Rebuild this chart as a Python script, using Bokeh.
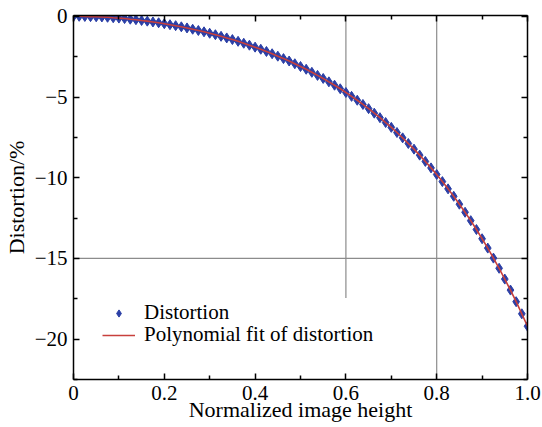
from bokeh.plotting import figure
from bokeh.models import (ColumnDataSource, FixedTicker, LinearAxis, Range1d,
                          Legend, LegendItem)
from bokeh.embed import file_html
from bokeh.resources import INLINE

# ---- data ----
norm_height = [0.0, 0.0125, 0.025, 0.0375, 0.05, 0.0625, 0.075, 0.0875, 0.1,
               0.1125, 0.125, 0.1375, 0.15, 0.1625, 0.175, 0.1875, 0.2,
               0.2125, 0.225, 0.2375, 0.25, 0.2625, 0.275, 0.2875, 0.3,
               0.3125, 0.325, 0.3375, 0.35, 0.3625, 0.375, 0.3875, 0.4,
               0.4125, 0.425, 0.4375, 0.45, 0.4625, 0.475, 0.4875, 0.5,
               0.5125, 0.525, 0.5375, 0.55, 0.5625, 0.575, 0.5875, 0.6,
               0.6125, 0.625, 0.6375, 0.65, 0.6625, 0.675, 0.6875, 0.7,
               0.7125, 0.725, 0.7375, 0.75, 0.7625, 0.775, 0.7875, 0.8,
               0.8125, 0.825, 0.8375, 0.85, 0.8625, 0.875, 0.8875, 0.9,
               0.9125, 0.925, 0.9375, 0.95, 0.9625, 0.975, 0.9875, 1.0]
distortion = [0.0, -0.00, -0.01, -0.02, -0.03, -0.04, -0.06, -0.09, -0.11,
              -0.14, -0.18, -0.21, -0.26, -0.30, -0.35, -0.40, -0.46,
              -0.52, -0.58, -0.65, -0.72, -0.80, -0.88, -0.96, -1.05,
              -1.14, -1.24, -1.34, -1.44, -1.55, -1.67, -1.79, -1.91,
              -2.04, -2.18, -2.32, -2.47, -2.62, -2.77, -2.94, -3.11,
              -3.28, -3.47, -3.66, -3.85, -4.06, -4.27, -4.49, -4.72,
              -4.96, -5.20, -5.46, -5.72, -6.00, -6.28, -6.58, -6.88,
              -7.20, -7.53, -7.88, -8.23, -8.60, -8.99, -9.39, -9.80,
              -10.24, -10.69, -11.15, -11.64, -12.14, -12.66, -13.21, -13.78,
              -14.36, -14.98, -15.61, -16.28, -16.96, -17.68, -18.43, -19.20]
fit = list(distortion)

x_ticks = [0.0, 0.2, 0.4, 0.6, 0.8, 1.0]
x_tick_labels = ["0", "0.2", "0.4", "0.6", "0.8", "1.0"]
x_minor = [0.1, 0.3, 0.5, 0.7, 0.9]
y_ticks = [0, -5, -10, -15, -20]
y_tick_labels = ["0", "\u22125", "\u221210", "\u221215", "\u221220"]
y_minor = [-2.5, -7.5, -12.5, -17.5, -22.5]

# reference lines (x0, y0, x1, y1)
ref_x0 = [0.6, 0.8, 0.0]
ref_y0 = [0.05, 0.05, -15.0]
ref_x1 = [0.6, 0.8, 1.0]
ref_y1 = [-17.45, -22.5, -15.0]

FONT = "Liberation Serif"

src = ColumnDataSource(dict(x=norm_height, d=distortion, f=fit))

p = figure(width=542, height=427, output_backend="svg", toolbar_location=None,
           x_range=Range1d(0, 1.0), y_range=Range1d(-22.5, 0.05),
           min_border_left=73, min_border_right=15, min_border_top=15,
           min_border_bottom=48, background_fill_color="white",
           border_fill_color="white")
p.outline_line_color = None
p.xgrid.visible = False
p.ygrid.visible = False

p.segment(x0=ref_x0, y0=ref_y0, x1=ref_x1, y1=ref_y1,
          line_color="#8c8c8c", line_width=1.2)

def style_axis(ax, ticks, minor, overrides, show_labels):
    ax.ticker = FixedTicker(ticks=ticks, minor_ticks=minor)
    ax.axis_line_color = "black"
    ax.axis_line_width = 1.5
    ax.major_tick_line_color = "black"
    ax.minor_tick_line_color = "black"
    ax.major_tick_line_width = 1.5
    ax.minor_tick_line_width = 1.5
    ax.major_tick_in = 6
    ax.major_tick_out = 0
    ax.minor_tick_in = 4
    ax.minor_tick_out = 0
    ax.major_label_text_font = FONT
    ax.major_label_text_font_size = "21px"
    ax.major_label_text_color = "black"
    ax.major_label_overrides = overrides
    if not show_labels:
        ax.major_label_text_alpha = 0

xo = {t: l for t, l in zip(x_ticks, x_tick_labels)}
yo = {t: l for t, l in zip(y_ticks, y_tick_labels)}

style_axis(p.xaxis[0], x_ticks, x_minor, xo, True)
style_axis(p.yaxis[0], y_ticks, y_minor, yo, True)
p.xaxis[0].major_label_standoff = 6
p.yaxis[0].major_label_standoff = 6

p.xaxis.axis_label = "Normalized image height"
p.yaxis.axis_label = "Distortion/%"
for ax in (p.xaxis[0], p.yaxis[0]):
    ax.axis_label_text_font = FONT
    ax.axis_label_text_font_size = "22px"
    ax.axis_label_text_font_style = "normal"
    ax.axis_label_text_color = "black"
p.xaxis[0].axis_label_standoff = -6
p.yaxis[0].axis_label_standoff = 3

top = LinearAxis()
style_axis(top, x_ticks, x_minor, xo, False)
top.major_label_text_font_size = "1px"
top.major_label_standoff = 0
p.add_layout(top, "above")
right = LinearAxis()
style_axis(right, y_ticks, y_minor, yo, False)
right.major_label_text_font_size = "1px"
right.major_label_standoff = 0
p.add_layout(right, "right")

pts = p.scatter("x", "d", source=src, marker="diamond", size=10,
                fill_color="#2b3fa6", line_color="#2b3fa6")
ln = p.line("x", "f", source=src, line_color="#c8403c", line_width=1.6)

legend_kw = dict(padding=2, margin=0, glyph_width=33, glyph_height=18,
                 label_height=18, label_standoff=9, border_line_alpha=0,
                 background_fill_alpha=0,
                 label_text_font=FONT, label_text_font_size="21px",
                 label_text_color="black")
leg1 = Legend(items=[LegendItem(label="Distortion", renderers=[pts])],
              location=(27, 52), **legend_kw)
leg2 = Legend(items=[LegendItem(label="Polynomial fit of distortion",
                                renderers=[ln])],
              location=(27, 30), **legend_kw)
p.add_layout(leg1, "center")
p.add_layout(leg2, "center")

open("out.html", "w").write(file_html(p, INLINE))
